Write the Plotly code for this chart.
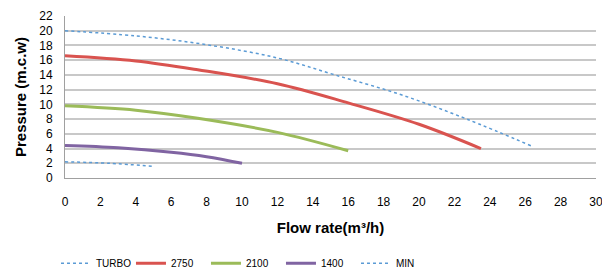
import plotly.graph_objects as go

turbo_x = [0, 4, 8, 12, 15.25, 19, 22.7, 26.4]
turbo_y = [20, 19.3, 18.1, 16.3, 14.0, 11.3, 8.0, 4.3]
r2750_x = [0, 4, 7.5, 12, 16, 20, 23.5]
r2750_y = [16.6, 15.9, 14.7, 12.8, 10.2, 7.3, 4.0]
r2100_x = [0, 4, 7.5, 12, 16]
r2100_y = [9.8, 9.2, 8.1, 6.2, 3.7]
r1400_x = [0, 3, 6, 8, 10]
r1400_y = [4.4, 4.1, 3.5, 2.9, 2.0]
min_x = [0, 2.5, 4.9]
min_y = [2.2, 2.0, 1.6]

x_ticks = list(range(0, 31, 2))
y_ticks = list(range(0, 23, 2))

font = "Liberation Sans Narrow, Liberation Sans, Arial, sans-serif"

fig = go.Figure()
fig.add_trace(go.Scatter(x=turbo_x, y=turbo_y, name="TURBO", mode="lines",
                         line=dict(color="#5b9bd5", width=1.5, dash="dot", shape="spline")))
fig.add_trace(go.Scatter(x=r2750_x, y=r2750_y, name="2750", mode="lines",
                         line=dict(color="#d9534f", width=3, shape="spline")))
fig.add_trace(go.Scatter(x=r2100_x, y=r2100_y, name="2100", mode="lines",
                         line=dict(color="#9bbb59", width=3, shape="spline")))
fig.add_trace(go.Scatter(x=r1400_x, y=r1400_y, name="1400", mode="lines",
                         line=dict(color="#8064a2", width=3, shape="spline")))
fig.add_trace(go.Scatter(x=min_x, y=min_y, name="MIN", mode="lines",
                         line=dict(color="#5b9bd5", width=1.5, dash="dot", shape="spline")))

fig.update_layout(
    width=602, height=272,
    margin=dict(l=65, r=6, t=16, b=94, autoexpand=False),
    plot_bgcolor="white", paper_bgcolor="white",
    font=dict(family=font, size=12, color="black"),
    showlegend=True,
    legend=dict(orientation="h", x=-0.017, xanchor="left", y=-0.437, yanchor="top",
                font=dict(size=10), tracegroupgap=0,
                entrywidth=30, entrywidthmode="pixels"),
    xaxis=dict(range=[0, 30], tickvals=x_ticks, ticktext=[str(v) for v in x_ticks],
               showgrid=False, showline=True, linecolor="#a0a0a0", linewidth=1,
               zeroline=False, ticks="", ticklen=0, automargin=False,
               ticklabelstandoff=13, ticklabeloverflow="allow",
               title=dict(text="<b>Flow rate(m³/h)</b>", font=dict(size=15), standoff=14)),
    yaxis=dict(range=[0, 22], tickvals=y_ticks, ticktext=[str(v) for v in y_ticks],
               showgrid=True, gridcolor="#c8c8c8", gridwidth=1.5, automargin=False,
               showline=True, linecolor="#a0a0a0", linewidth=1, zeroline=False,
               ticks="", ticklabelstandoff=9,
               title=dict(text="<b>Pressure (m.c.w)</b>", font=dict(size=15), standoff=8)),
)

fig.write_html("out.html", config={"displayModeBar": False},
               post_script="document.body.style.margin='0';document.body.style.overflow='hidden';")
